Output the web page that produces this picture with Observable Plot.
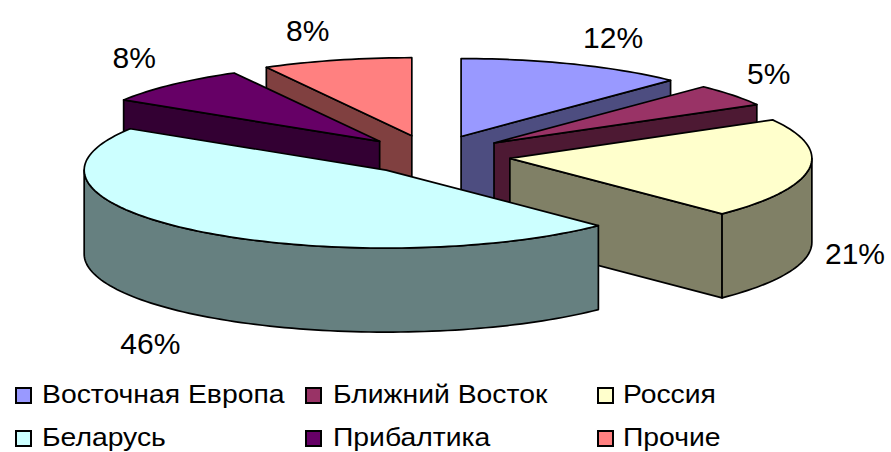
<!DOCTYPE html>
<html lang="ru">
<head>
<meta charset="utf-8">
<script src="https://cdn.jsdelivr.net/npm/d3@7"></script>
<script src="https://cdn.jsdelivr.net/npm/@observablehq/plot@0.6"></script>
<style>
  html, body { margin: 0; padding: 0; background: #fff; }
  #wrap { width: 891px; height: 452px; position: relative; overflow: hidden; font-family: "Liberation Sans", Arial, sans-serif; color: #000; }
  #wrap svg { display: block; }
  .key { position: absolute; font-size: 25px; line-height: 30px; white-space: nowrap; transform: scaleX(1.133); transform-origin: left center; }
  .sw { position: absolute; width: 13px; height: 13px; border: 2px solid #000; }
</style>
</head>
<body>
<div id="wrap"></div>
<script>
const categories = ["Восточная Европа", "Ближний Восток", "Россия", "Беларусь", "Прибалтика", "Прочие"];
const shares = [12.2, 4.6, 20.8, 46.3, 8.1, 8.0];

// styling and layout, separate from the data
const topColors  = ["#9999ff", "#993366", "#ffffcc", "#ccffff", "#660066", "#ff8080"];
const sideColors = ["#4d4d80", "#4d1933", "#808066", "#668080", "#330033", "#804040"];
const explode = [0.262, 0.262, 0.262, 0.24, 0.25, 0.262];
const drawOrder = [5, 4, 0, 1, 2, 3];
const labelNudge = [[39, -26], [36, -21], [46, 85], [-47, 113], [-38, -26], [-29, -29]];
const legendCol = [[15, 42], [305, 333], [597, 623]];
const legendRow = [379, 422];
const depth = 84 / 78;            // thickness in units of the vertical radius

const rad = d => d * Math.PI / 180;
const total = d3.sum(shares);
let acc = 0;
const slices = shares.map((v, i) => {
  const a0 = acc / total * 360; acc += v;
  const a1 = acc / total * 360;
  const mid = rad((a0 + a1) / 2);
  return {i, a0, a1, cx: explode[i] * Math.sin(mid), cy: -explode[i] * Math.cos(mid), mid};
});
const rim = (s, a) => [s.cx + Math.sin(rad(a)), s.cy - Math.cos(rad(a))];
const arc = (s, a0, a1) => {
  const n = Math.max(2, Math.ceil((a1 - a0) / 1.5));
  return d3.range(n + 1).map(k => rim(s, a0 + (a1 - a0) * k / n));
};

const polys = [];
let nextId = 0;
const addPoly = (pts, paint) => {
  const id = nextId++;
  [...pts, pts[0]].forEach(([x, y]) => polys.push({x, y, id, paint}));
};
const extrude = pts => [...pts, ...pts.slice().reverse().map(([x, y]) => [x, y + depth])];

for (const i of drawOrder) {
  const s = slices[i];
  const apex = [s.cx, s.cy];
  if (Math.sin(rad(s.a0)) < 0) addPoly(extrude([apex, rim(s, s.a0)]), sideColors[i]);
  if (Math.sin(rad(s.a1)) > 0.01) addPoly(extrude([apex, rim(s, s.a1)]), sideColors[i]);
  const f0 = Math.max(s.a0, 90), f1 = Math.min(s.a1, 270);
  if (f1 > f0) addPoly(extrude(arc(s, f0, f1)), sideColors[i]);
  addPoly([apex, ...arc(s, s.a0, s.a1)], topColors[i]);
}

const labels = slices.map(s => {
  const [x, y] = rim(s, (s.a0 + s.a1) / 2);
  return {x, y, text: Math.round(shares[s.i]) + "%", nudge: labelNudge[s.i]};
});

const cx0 = 431, cy0 = 155, rx = 302, ry = 78;
const chart = Plot.plot({
  width: 891,
  height: 375,
  margin: 0,
  x: {domain: [-1, 1], range: [cx0 - rx, cx0 + rx], axis: null},
  y: {domain: [-1, 1], range: [cy0 - ry, cy0 + ry], axis: null},
  color: {type: "identity"},
  style: {background: "#fff", overflow: "visible"},
  marks: [
    Plot.line(polys, {x: "x", y: "y", z: "id", fill: d => d.paint, stroke: "#000", strokeWidth: 1.7, strokeLinejoin: "round"}),
    ...labels.map(l => Plot.text([l], {
      x: "x", y: "y", text: "text", dx: l.nudge[0], dy: l.nudge[1],
      fontSize: 30, fontFamily: "Liberation Sans, Arial, sans-serif", fill: "#000"
    }))
  ]
});

const wrap = document.getElementById("wrap");
wrap.appendChild(chart);
categories.forEach((c, i) => {
  const col = i % 3, row = Math.floor(i / 3);
  const sw = document.createElement("div");
  sw.className = "sw";
  sw.style.left = legendCol[col][0] + "px";
  sw.style.top = (legendRow[row] + 8) + "px";
  sw.style.background = topColors[i];
  const t = document.createElement("div");
  t.className = "key";
  t.textContent = c;
  t.style.left = legendCol[col][1] + "px";
  t.style.top = legendRow[row] + "px";
  wrap.appendChild(sw);
  wrap.appendChild(t);
});
</script>
</body>
</html>
